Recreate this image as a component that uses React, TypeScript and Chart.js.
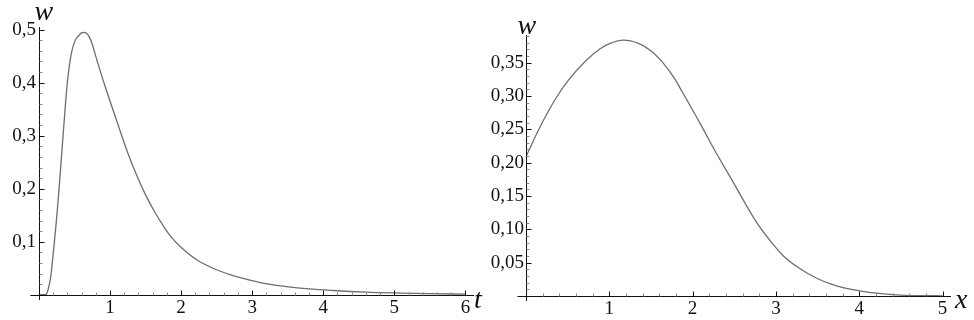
import React, { useEffect, useRef } from "react";
import { Chart, registerables } from "chart.js";

Chart.register(...registerables);

// ---- Left plot: w(t) ----
const leftT = [0, 0.1, 0.122, 0.145, 0.169, 0.192, 0.216, 0.24, 0.265, 0.29, 0.315, 0.34, 0.365, 0.39, 0.42, 0.45, 0.48, 0.52, 0.57, 0.6, 0.637, 0.67, 0.71, 0.75, 0.8, 0.92, 1.083, 1.25, 1.38, 1.51, 1.63, 1.75, 1.86, 1.98, 2.22, 2.45, 2.69, 2.9, 3.15, 3.48, 3.8, 4.14, 4.6, 5.08, 5.5, 6.0];
const leftW = [0, 0, 0.006, 0.018, 0.036, 0.064, 0.096, 0.13, 0.168, 0.21, 0.254, 0.299, 0.343, 0.385, 0.423, 0.45, 0.468, 0.482, 0.49, 0.494, 0.495, 0.493, 0.486, 0.473, 0.45, 0.398, 0.333, 0.268, 0.224, 0.186, 0.156, 0.13, 0.109, 0.092, 0.066, 0.05, 0.038, 0.03, 0.022, 0.0155, 0.011, 0.008, 0.005, 0.0032, 0.002, 0.0012];
const leftXTicks = [1, 2, 3, 4, 5, 6];
const leftXLabels = ["1", "2", "3", "4", "5", "6"];
const leftYTicks = [0.1, 0.2, 0.3, 0.4, 0.5];
const leftYLabels = ["0,1", "0,2", "0,3", "0,4", "0,5"];

// ---- Right plot: w(x) ----
const rightX = [0, 0.15, 0.25, 0.37, 0.51, 0.71, 0.89, 1.01, 1.17, 1.35, 1.51, 1.65, 1.79, 1.85, 2.09, 2.25, 2.49, 2.77, 2.95, 3.09, 3.3, 3.49, 3.7, 3.89, 4.1, 4.29, 4.5, 4.75, 5.0];
const rightW = [0.209, 0.249, 0.273, 0.299, 0.324, 0.352, 0.371, 0.379, 0.384, 0.379, 0.367, 0.349, 0.325, 0.312, 0.259, 0.222, 0.17, 0.11, 0.08, 0.06, 0.04, 0.0265, 0.016, 0.01, 0.0055, 0.003, 0.0012, 0.0004, 0.0001];
const rightXTicks = [1, 2, 3, 4, 5];
const rightXLabels = ["1", "2", "3", "4", "5"];
const rightYTicks = [0.05, 0.1, 0.15, 0.2, 0.25, 0.3, 0.35];
const rightYLabels = ["0,05", "0,10", "0,15", "0,20", "0,25", "0,30", "0,35"];

const SERIF = '"Liberation Serif", "Times New Roman", serif';

const mathAxes = {
  id: "mathAxes",
  afterDraw(chart: any, _args: any, opts: any) {
    const { ctx, chartArea } = chart;
    const xs = chart.scales.x;
    const ys = chart.scales.y;
    const x0 = Math.round(xs.getPixelForValue(0)) + 0.5;
    const y0 = Math.round(ys.getPixelForValue(0)) + 0.5;
    const xl = xs.getPixelForValue(opts.axisXFrom);
    const yb = ys.getPixelForValue(opts.axisYFrom);
    ctx.save();
    ctx.strokeStyle = "#111";
    ctx.lineWidth = 1;
    ctx.beginPath();
    ctx.moveTo(xl, y0);
    ctx.lineTo(chartArea.right, y0);
    ctx.moveTo(x0, yb);
    ctx.lineTo(x0, chartArea.top);
    ctx.stroke();

    const isMajor = (v: number, majors: number[]) => majors.some((m) => Math.abs(m - v) < 1e-6);
    // minor ticks
    ctx.strokeStyle = "#888";
    ctx.beginPath();
    for (let i = 1; i * opts.minorX <= xs.max + 1e-9; i++) {
      const v = i * opts.minorX;
      if (isMajor(v, opts.xMajors)) continue;
      const px = Math.round(xs.getPixelForValue(v)) + 0.5;
      ctx.moveTo(px, y0);
      ctx.lineTo(px, y0 - 3);
    }
    for (let i = 1; i * opts.minorY <= ys.max + 1e-9; i++) {
      const v = i * opts.minorY;
      if (isMajor(v, opts.yMajors)) continue;
      const py = Math.round(ys.getPixelForValue(v)) + 0.5;
      ctx.moveTo(x0, py);
      ctx.lineTo(x0 + 3, py);
    }
    ctx.stroke();
    // major ticks
    ctx.strokeStyle = "#111";
    ctx.beginPath();
    for (const t of xs.ticks) {
      const px = Math.round(xs.getPixelForValue(t.value)) + 0.5;
      ctx.moveTo(px, y0);
      ctx.lineTo(px, y0 - 5);
    }
    for (const t of ys.ticks) {
      const py = Math.round(ys.getPixelForValue(t.value)) + 0.5;
      ctx.moveTo(x0, py);
      ctx.lineTo(x0 + 5, py);
    }
    ctx.stroke();

    // axis names
    ctx.fillStyle = "#111";
    ctx.font = `italic ${opts.nameSize}px ${SERIF}`;
    ctx.textBaseline = "alphabetic";
    ctx.textAlign = "left";
    ctx.fillText(opts.yName, x0 + opts.yNameDx, chartArea.top + opts.yNameDy);
    ctx.fillText(opts.xName, chartArea.right + opts.xNameDx, y0 + opts.xNameDy);
    ctx.restore();
  },
};

function makeConfig(p: any): any {
  return {
    type: "line",
    data: {
      datasets: [
        {
          data: p.xs.map((v: number, i: number) => ({ x: v, y: p.ys[i] })),
          borderColor: "rgb(110,110,110)",
          borderWidth: 1.3,
          pointRadius: 0,
          fill: false,
          cubicInterpolationMode: "monotone",
        },
      ],
    },
    options: {
      responsive: false,
      animation: false,
      events: [],
      layout: { padding: { left: 0, top: p.padTop, right: p.padRight, bottom: 0 } },
      plugins: {
        legend: { display: false },
        tooltip: { enabled: false },
        mathAxes: p.axes,
      },
      scales: {
        x: {
          type: "linear",
          min: p.xMin,
          max: p.xMax,
          grid: { display: false, drawTicks: false },
          border: { display: false },
          afterFit: (s: any) => {
            s.height = p.xScaleH;
          },
          afterBuildTicks: (s: any) => {
            s.ticks = p.xTicks.map((v: number) => ({ value: v }));
          },
          ticks: {
            autoSkip: false,
            maxRotation: 0,
            padding: p.xLabelPad,
            color: "#111",
            font: { family: SERIF, size: 19 },
            callback: (_v: any, i: number) => p.xLabels[i],
          },
        },
        y: {
          type: "linear",
          min: p.yMin,
          max: p.yMax,
          grid: { display: false, drawTicks: false },
          border: { display: false },
          afterFit: (s: any) => {
            s.width = p.yScaleW;
          },
          afterBuildTicks: (s: any) => {
            s.ticks = p.yTicks.map((v: number) => ({ value: v }));
          },
          ticks: {
            autoSkip: false,
            padding: p.yLabelPad,
            color: "#111",
            font: { family: SERIF, size: 19 },
            callback: (_v: any, i: number) => p.yLabels[i],
          },
        },
      },
    },
    plugins: [mathAxes],
  };
}

export default function App() {
  const leftRef = useRef<HTMLCanvasElement>(null);
  const rightRef = useRef<HTMLCanvasElement>(null);

  useEffect(() => {
    const left = new Chart(
      leftRef.current as HTMLCanvasElement,
      makeConfig({
        xs: leftT,
        ys: leftW,
        xMin: -0.026,
        xMax: 6.12,
        yMin: -0.0099,
        yMax: 0.505,
        xTicks: leftXTicks,
        xLabels: leftXLabels,
        yTicks: leftYTicks,
        yLabels: leftYLabels,
        padTop: 27,
        padRight: 13,
        xScaleH: 20,
        yScaleW: 37,
        xLabelPad: -3,
        yLabelPad: 1,
        axes: {
          axisXFrom: -0.12,
          axisYFrom: -0.0099,
          minorX: 0.2,
          minorY: 0.02,
          xMajors: leftXTicks,
          yMajors: leftYTicks,
          xName: "t",
          yName: "w",
          nameSize: 28,
          yNameDx: -5,
          yNameDy: -7,
          xNameDx: 0,
          xNameDy: 12,
        },
      })
    );
    const right = new Chart(
      rightRef.current as HTMLCanvasElement,
      makeConfig({
        xs: rightX,
        ys: rightW,
        xMin: -0.012,
        xMax: 5.102,
        yMin: -0.0077,
        yMax: 0.3917,
        xTicks: rightXTicks,
        xLabels: rightXLabels,
        yTicks: rightYTicks,
        yLabels: rightYLabels,
        padTop: 35,
        padRight: 23,
        xScaleH: 19,
        yScaleW: 38,
        xLabelPad: -3,
        yLabelPad: 1,
        axes: {
          axisXFrom: -0.102,
          axisYFrom: -0.0077,
          minorX: 0.2,
          minorY: 0.01,
          xMajors: rightXTicks,
          yMajors: rightYTicks,
          xName: "x",
          yName: "w",
          nameSize: 28,
          yNameDx: -9,
          yNameDy: -1,
          xNameDx: 4,
          xNameDy: 11,
        },
      })
    );
    return () => {
      left.destroy();
      right.destroy();
    };
  }, []);

  return (
    <div style={{ position: "fixed", left: 0, top: 0, width: 974, height: 320, background: "#fff" }}>
      <canvas ref={leftRef} width={487} height={320} style={{ position: "absolute", left: 0, top: 0 }} />
      <canvas ref={rightRef} width={487} height={320} style={{ position: "absolute", left: 487, top: 0 }} />
    </div>
  );
}
